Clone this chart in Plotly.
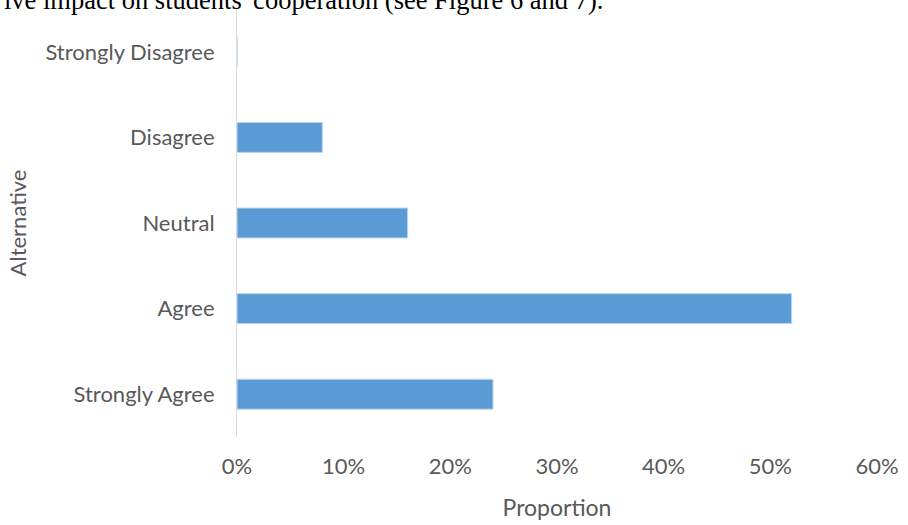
import plotly.graph_objects as go

categories = ["Strongly Agree", "Agree", "Neutral", "Disagree", "Strongly Disagree"]
proportions = [0.24, 0.52, 0.16, 0.08, 0.0]
x_ticks = [0, 0.1, 0.2, 0.3, 0.4, 0.5, 0.6]
x_tick_labels = ["0%", "10%", "20%", "30%", "40%", "50%", "60%"]

font_family = "Lato"
grey = "#595959"

fig = go.Figure(
    go.Bar(
        y=categories,
        x=proportions,
        orientation="h",
        marker=dict(color="#5b9bd5", line=dict(color="#bdd7ee", width=1)),
        width=0.35,
    )
)

fig.update_layout(
    width=908,
    height=525,
    margin=dict(l=237, r=25, t=9, b=86),
    paper_bgcolor="white",
    plot_bgcolor="white",
    showlegend=False,
    font=dict(family=font_family, color=grey, size=22),
    xaxis=dict(
        range=[0, 0.6],
        tickvals=x_ticks,
        ticktext=x_tick_labels,
        showgrid=False,
        zeroline=False,
        showline=False,
        ticks="",
        ticklabelstandoff=14,
        tickfont=dict(size=22, color=grey, family=font_family),
        title=dict(text="Proportion", font=dict(size=23, color=grey, family=font_family), standoff=21),
    ),
    yaxis=dict(
        categoryorder="array",
        categoryarray=categories,
        range=[-0.5, 4.5],
        showgrid=False,
        zeroline=False,
        showline=True,
        linecolor="#d9d9d9",
        linewidth=1,
        ticks="",
        ticklabelstandoff=17,
        tickfont=dict(size=22, color=grey, family=font_family),
        title=dict(text="Alternative", font=dict(size=22, color=grey, family=font_family), standoff=12),
    ),
)

fig.add_annotation(
    text="ive impact on students' cooperation (see Figure 6 and 7).",
    xref="paper", yref="paper",
    x=-237/646, y=1,
    xanchor="left", yanchor="bottom",
    yshift=-8,
    showarrow=False,
    font=dict(family="Liberation Serif", size=26.5, color="black"),
)

fig.write_html("out.html")
